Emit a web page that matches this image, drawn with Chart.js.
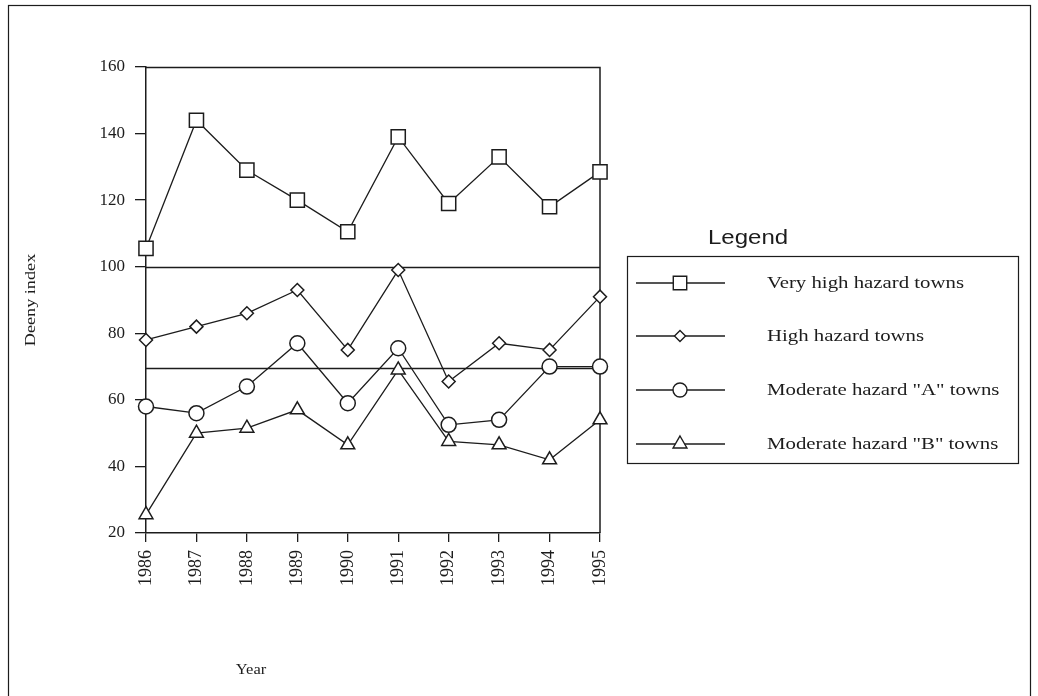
<!DOCTYPE html>
<html>
<head>
<meta charset="utf-8">
<script src="https://cdn.jsdelivr.net/npm/chart.js@4.4.1/dist/chart.umd.min.js"></script>
<style>
  html, body { margin: 0; padding: 0; background: #fff; overflow: hidden; }
</style>
</head>
<body>
<canvas id="c" width="1038" height="696"></canvas>
<script>
const years = ['1986', '1987', '1988', '1989', '1990', '1991', '1992', '1993', '1994', '1995'];
const veryHigh = [105.5, 144, 129, 120, 110.5, 139, 119, 133, 118, 128.5];
const high = [78, 82, 86, 93, 75, 99, 65.5, 77, 75, 91];
const modA = [58, 56, 64, 77, 59, 75.5, 52.5, 54, 70, 70];
const modB = [25.5, 50, 51.5, 57, 46.5, 69, 47.5, 46.5, 42, 54];
const seriesNames = ['Very high hazard towns', 'High hazard towns', 'Moderate hazard "A" towns', 'Moderate hazard "B" towns'];
const seriesMarks = ['rect', 'rectRot', 'circle', 'triangle'];
const refLines = [100, 69.5];

const ink = '#1c1c1c';
const serif = '"Liberation Serif", "DejaVu Serif", serif';

function series(label, data, style, radius) {
  return {
    label: label,
    data: data,
    borderColor: ink,
    borderWidth: 1.3,
    pointStyle: style,
    pointRadius: radius,
    pointBackgroundColor: '#fff',
    pointBorderColor: ink,
    pointBorderWidth: 1.5,
    tension: 0,
    clip: false
  };
}

// the scanned original has wide, stretched lettering
function wideText(ctx, text, x, y, sx) {
  ctx.save();
  ctx.translate(x, y);
  ctx.scale(sx, 1);
  ctx.fillText(text, 0, 0);
  ctx.restore();
}

// frame, reference lines, legend and axis titles
const decor = {
  id: 'decor',
  beforeDraw(chart) {
    const ctx = chart.ctx;
    ctx.save();
    ctx.fillStyle = '#fff';
    ctx.fillRect(0, 0, chart.width, chart.height);
    ctx.strokeStyle = ink;
    ctx.lineWidth = 1.2;
    ctx.strokeRect(8.5, 5.5, 1022, 760);
    ctx.restore();
  },
  beforeDatasetsDraw(chart) {
    const {ctx, chartArea: a, scales: {y}} = chart;
    ctx.save();
    ctx.strokeStyle = ink;
    ctx.lineWidth = 1.5;
    ctx.beginPath();
    ctx.moveTo(a.left, a.top + 0.5);
    ctx.lineTo(a.right, a.top + 0.5);
    ctx.lineTo(a.right, a.bottom);
    refLines.forEach(v => {
      const py = Math.round(y.getPixelForValue(v)) + 0.5;
      ctx.moveTo(a.left, py);
      ctx.lineTo(a.right, py);
    });
    ctx.stroke();
    ctx.restore();
  },
  afterDraw(chart) {
    const ctx = chart.ctx;
    ctx.save();
    // axis titles
    ctx.fillStyle = ink;
    ctx.font = '15px ' + serif;
    ctx.textAlign = 'center';
    ctx.textBaseline = 'middle';
    wideText(ctx, 'Year', 251, 670, 1.1);
    ctx.save();
    ctx.translate(31, 300);
    ctx.rotate(-Math.PI / 2);
    ctx.font = '14px ' + serif;
    wideText(ctx, 'Deeny index', 0, 0, 1.3);
    ctx.restore();

    // legend
    ctx.font = '20px "Liberation Sans", Arial, sans-serif';
    ctx.textAlign = 'left';
    wideText(ctx, 'Legend', 708, 238, 1.2);
    ctx.strokeStyle = ink;
    ctx.lineWidth = 1.2;
    ctx.strokeRect(627.5, 256.5, 391, 207);
    const rows = [283, 336, 390, 444];
    const sizes = [9.5, 5.5, 7, 8];
    ctx.font = '16px ' + serif;
    rows.forEach((ry, i) => {
      ctx.strokeStyle = ink;
      ctx.lineWidth = 1.3;
      ctx.beginPath();
      ctx.moveTo(636, ry);
      ctx.lineTo(725, ry);
      ctx.stroke();
      ctx.fillStyle = '#fff';
      ctx.lineWidth = 1.4;
      Chart.helpers.drawPoint(ctx, {pointStyle: seriesMarks[i], radius: sizes[i], borderWidth: 1.4, rotation: 0}, 680, ry);
      ctx.fillStyle = ink;
      wideText(ctx, seriesNames[i], 767, ry + 1, 1.3);
    });
    ctx.restore();
  }
};

new Chart(document.getElementById('c'), {
  type: 'line',
  data: {
    labels: years,
    datasets: [
      series(seriesNames[0], veryHigh, seriesMarks[0], 10),
      series(seriesNames[1], high, seriesMarks[1], 6.5),
      series(seriesNames[2], modA, seriesMarks[2], 7.5),
      series(seriesNames[3], modB, seriesMarks[3], 8)
    ]
  },
  options: {
    responsive: false,
    animation: false,
    layout: { padding: { left: 0, top: 67, right: 438, bottom: 0 } },
    plugins: {
      legend: { display: false },
      tooltip: { enabled: false }
    },
    scales: {
      x: {
        offset: false,
        afterFit(scale) { scale.height = 163; },
        grid: { drawOnChartArea: false, tickLength: 9, color: ink, lineWidth: 1.3 },
        border: { color: ink, width: 1.5 },
        ticks: { color: ink, font: { family: serif, size: 18 }, minRotation: 90, maxRotation: 90, padding: 8 }
      },
      y: {
        min: 20,
        max: 160,
        afterFit(scale) { scale.width = 146; },
        grid: { drawOnChartArea: false, tickLength: 11, color: ink, lineWidth: 1.3 },
        border: { color: ink, width: 1.5 },
        ticks: { stepSize: 20, color: ink, font: { family: serif, size: 17 }, padding: 10 }
      }
    }
  },
  plugins: [decor]
});
</script>
</body>
</html>
